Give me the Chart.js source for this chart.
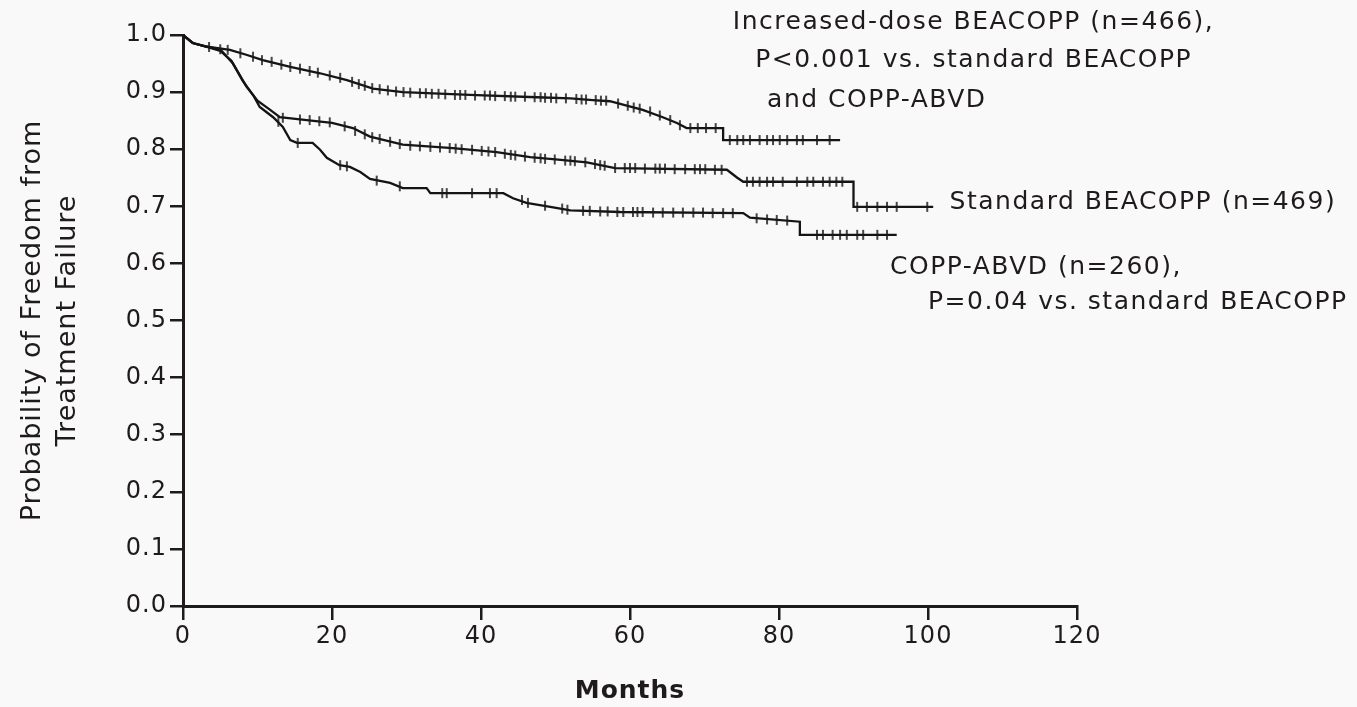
<!DOCTYPE html>
<html>
<head>
<meta charset="utf-8">
<script src="https://cdn.jsdelivr.net/npm/chart.js@4.4.1/dist/chart.umd.min.js"></script>
<style>
  html,body{margin:0;padding:0;background:#f9f9f9;}
  #wrap{width:1357px;height:707px;position:relative;}
  canvas{display:block;}
</style>
</head>
<body>
<div id="wrap"><canvas id="c" width="1357" height="707"></canvas></div>
<script>
// ---- data (months, probability) ----
const xTicks = [0, 20, 40, 60, 80, 100, 120];
const yTicks = [0, 0.1, 0.2, 0.3, 0.4, 0.5, 0.6, 0.7, 0.8, 0.9, 1.0];

const increasedCurve = [[0,1.0],[1.3,0.986],[3,0.98],[6.3,0.974],[8.6,0.965],[10.7,0.956],[14.4,0.944],[18.4,0.933],[22,0.921],[25.5,0.906],[29.5,0.90],[38.5,0.895],[47.5,0.891],[52,0.889],[55,0.886],[57.3,0.884],[61.7,0.869],[64.4,0.856],[66.3,0.846],[67.6,0.837],[72.5,0.837],[72.5,0.816],[88.2,0.816]];
const standardCurve = [[0,1.0],[1.3,0.986],[3,0.98],[5,0.975],[6.7,0.95],[8.5,0.91],[10,0.885],[11.7,0.869],[13,0.856],[16.6,0.851],[20,0.846],[22.8,0.837],[25.1,0.822],[29.5,0.808],[36.2,0.802],[42.1,0.795],[46.6,0.786],[50,0.782],[54.2,0.777],[58,0.767],[73,0.764],[74.4,0.75],[75.2,0.743],[90,0.743],[90,0.699],[100.7,0.699]];
const coppCurve = [[0,1.0],[1.3,0.986],[3,0.98],[5,0.972],[6.5,0.955],[8,0.92],[9.5,0.893],[10.3,0.874],[12.1,0.856],[13.4,0.839],[14.4,0.816],[15.3,0.811],[17.4,0.811],[18.4,0.799],[19.3,0.785],[21,0.772],[22.4,0.769],[23.8,0.76],[25.1,0.748],[27.8,0.741],[29.5,0.732],[32.7,0.732],[33.2,0.723],[43,0.723],[44.3,0.714],[46.1,0.706],[49.3,0.699],[52,0.693],[58.7,0.69],[75.2,0.688],[76.1,0.68],[82.8,0.673],[82.8,0.65],[95.8,0.65]];

const increasedCensor = [[3.5,0.979],[5.0,0.975],[6.0,0.974],[7.7,0.968],[9.4,0.962],[10.6,0.956],[11.9,0.953],[13.2,0.948],[14.4,0.944],[15.7,0.941],[17.0,0.937],[18.1,0.934],[19.7,0.929],[21.1,0.925],[22.7,0.918],[23.6,0.914],[24.4,0.911],[25.4,0.907],[26.4,0.905],[27.5,0.903],[28.6,0.901],[29.6,0.900],[30.5,0.899],[31.8,0.898],[32.6,0.898],[33.4,0.897],[34.3,0.897],[35.2,0.896],[36.5,0.895],[37.2,0.895],[37.9,0.895],[39.2,0.894],[40.5,0.894],[41.2,0.894],[41.9,0.893],[43.2,0.893],[44.0,0.892],[44.6,0.892],[45.9,0.892],[47.2,0.891],[48.0,0.891],[48.6,0.890],[49.4,0.890],[50.1,0.889],[51.4,0.889],[52.8,0.888],[53.5,0.887],[54.1,0.887],[55.4,0.886],[56.1,0.885],[56.8,0.885],[58.4,0.88],[59.7,0.876],[60.5,0.873],[61.3,0.871],[62.7,0.866],[64.0,0.859],[65.4,0.851],[66.7,0.842],[68.1,0.837],[69.1,0.837],[70.2,0.837],[71.5,0.837],[73.4,0.816],[74.4,0.816],[75.2,0.816],[76.1,0.816],[77.4,0.816],[78.4,0.816],[79.2,0.816],[80.1,0.816],[81.1,0.816],[82.4,0.816],[83.2,0.816],[85.1,0.816],[86.8,0.816]];
const standardCensor = [[13.4,0.855],[15.7,0.852],[17.0,0.851],[18.3,0.849],[19.7,0.847],[21.7,0.840],[23.1,0.832],[24.4,0.826],[25.4,0.821],[26.4,0.818],[27.8,0.813],[29.1,0.809],[30.5,0.806],[31.8,0.805],[33.2,0.804],[34.5,0.803],[35.8,0.802],[36.6,0.801],[37.4,0.80],[38.8,0.799],[40.1,0.797],[41.0,0.796],[41.9,0.795],[43.2,0.792],[44.0,0.790],[44.6,0.789],[45.9,0.787],[47.2,0.785],[48.0,0.784],[48.6,0.783],[49.9,0.782],[51.3,0.780],[52.0,0.780],[52.6,0.779],[54.0,0.777],[55.3,0.774],[56.0,0.772],[56.6,0.771],[58.0,0.767],[59.3,0.767],[60.0,0.767],[60.7,0.767],[62.0,0.766],[63.4,0.766],[64.0,0.766],[64.7,0.766],[66.0,0.765],[67.4,0.765],[68.7,0.765],[69.4,0.765],[70.1,0.765],[71.4,0.764],[72.3,0.764],[75.7,0.743],[76.5,0.743],[77.4,0.743],[78.4,0.743],[79.2,0.743],[80.5,0.743],[82.4,0.743],[83.8,0.743],[84.6,0.743],[85.9,0.743],[86.8,0.743],[87.7,0.743],[88.5,0.743],[90.5,0.699],[91.8,0.699],[93.2,0.699],[94.5,0.699],[95.8,0.699],[99.9,0.699]];
const coppCensor = [[12.8,0.848],[15.4,0.811],[21.1,0.772],[22.0,0.770],[26.0,0.745],[29.1,0.735],[34.8,0.723],[35.4,0.723],[38.8,0.723],[41.2,0.723],[42.1,0.723],[45.5,0.711],[46.3,0.706],[48.6,0.701],[50.9,0.696],[51.6,0.694],[53.7,0.692],[54.6,0.692],[56.0,0.691],[57.0,0.691],[58.3,0.690],[59.1,0.690],[60.4,0.690],[61.0,0.690],[61.7,0.690],[63.1,0.689],[64.4,0.689],[65.8,0.689],[67.1,0.689],[68.5,0.689],[69.8,0.689],[71.1,0.688],[72.5,0.688],[73.8,0.688],[77.0,0.679],[78.4,0.677],[79.7,0.676],[81.1,0.675],[85.1,0.65],[85.9,0.65],[87.2,0.65],[88.2,0.65],[89.1,0.65],[90.5,0.65],[91.3,0.65],[93.2,0.65],[94.5,0.65]];

const seriesLabels = ['Increased-dose BEACOPP', 'Standard BEACOPP', 'COPP-ABVD'];
const annotations = [
  {text:'Increased-dose BEACOPP (n=466),', x:73.8, y:1.022},
  {text:'P<0.001 vs. standard BEACOPP', x:76.8, y:0.956},
  {text:'and COPP-ABVD', x:78.4, y:0.886},
  {text:'Standard BEACOPP (n=469)', x:102.9, y:0.706},
  {text:'COPP-ABVD (n=260),', x:94.9, y:0.592},
  {text:'P=0.04 vs. standard BEACOPP', x:100.0, y:0.531}
];

// ---- chart ----
const INK = '#1f1b1c';
const toXY = arr => arr.map(([x, y]) => ({x, y}));
const curveDs = (label, arr) => ({
  type: 'line', label, data: toXY(arr), borderColor: '#141414', borderWidth: 2.3,
  pointRadius: 0, tension: 0, fill: false, order: 2
});
const censorDs = (label, arr) => ({
  type: 'scatter', label: label + ' censored', data: toXY(arr),
  pointStyle: 'line', rotation: 90, pointRadius: 5, pointHoverRadius: 5,
  borderColor: 'rgba(25,25,25,0.8)', backgroundColor: 'rgba(25,25,25,0.8)',
  pointBorderWidth: 2, borderWidth: 2, showLine: false, order: 1
});

const spacingPlugin = {
  id: 'spacing',
  beforeDraw(chart) { chart.ctx.letterSpacing = '1px'; }
};

const annotationPlugin = {
  id: 'annot',
  afterDraw(chart) {
    const {ctx, scales: {x, y}} = chart;
    ctx.save();
    ctx.fillStyle = INK;
    ctx.font = '25px "DejaVu Sans"';
    ctx.letterSpacing = '1.5px';
    ctx.textAlign = 'left';
    ctx.textBaseline = 'middle';
    annotations.forEach(a => ctx.fillText(a.text, x.getPixelForValue(a.x), y.getPixelForValue(a.y)));
    ctx.restore();
  }
};

const bgPlugin = {
  id: 'bg',
  beforeDraw(chart) {
    const {ctx, width, height} = chart;
    ctx.save(); ctx.fillStyle = '#f9f9f9'; ctx.fillRect(0, 0, width, height); ctx.restore();
  }
};

new Chart(document.getElementById('c'), {
  type: 'scatter',
  data: {
    datasets: [
      curveDs(seriesLabels[0], increasedCurve),
      curveDs(seriesLabels[1], standardCurve),
      curveDs(seriesLabels[2], coppCurve),
      censorDs(seriesLabels[0], increasedCensor),
      censorDs(seriesLabels[1], standardCensor),
      censorDs(seriesLabels[2], coppCensor)
    ]
  },
  options: {
    responsive: false,
    animation: false,
    events: [],
    layout: {padding: {top: 35, right: 280, left: 0, bottom: 0}},
    plugins: {legend: {display: false}, tooltip: {enabled: false}},
    scales: {
      x: {
        type: 'linear', min: 0, max: 120,
        afterBuildTicks: s => { s.ticks = xTicks.map(v => ({value: v})); },
        afterFit: s => { s.height = 101; },
        border: {display: true, color: INK, width: 3},
        grid: {drawOnChartArea: false, drawTicks: true, tickLength: 14, color: INK, lineWidth: 2.5},
        ticks: {color: INK, padding: 2, font: {family: 'DejaVu Sans', size: 24}, callback: v => String(v), maxRotation: 0},
        title: {display: true, text: 'Months', color: INK, font: {family: 'DejaVu Sans', size: 25, weight: 'bold'}, padding: {top: 0, bottom: 1}}
      },
      y: {
        type: 'linear', min: 0, max: 1,
        afterBuildTicks: s => { s.ticks = yTicks.map(v => ({value: v})); },
        afterFit: s => { s.width = 183; },
        border: {display: true, color: INK, width: 3},
        grid: {drawOnChartArea: false, drawTicks: true, tickLength: 13, color: INK, lineWidth: 2.5},
        ticks: {color: INK, padding: 3, font: {family: 'DejaVu Sans', size: 24}, callback: v => Number(v).toFixed(1)},
        title: {display: true, text: ['Probability of Freedom from', 'Treatment Failure'], color: INK,
                font: {family: 'DejaVu Sans', size: 27, lineHeight: 1.3}, padding: {top: 15, bottom: 0}}
      }
    }
  },
  plugins: [bgPlugin, spacingPlugin, annotationPlugin]
});
</script>
</body>
</html>
